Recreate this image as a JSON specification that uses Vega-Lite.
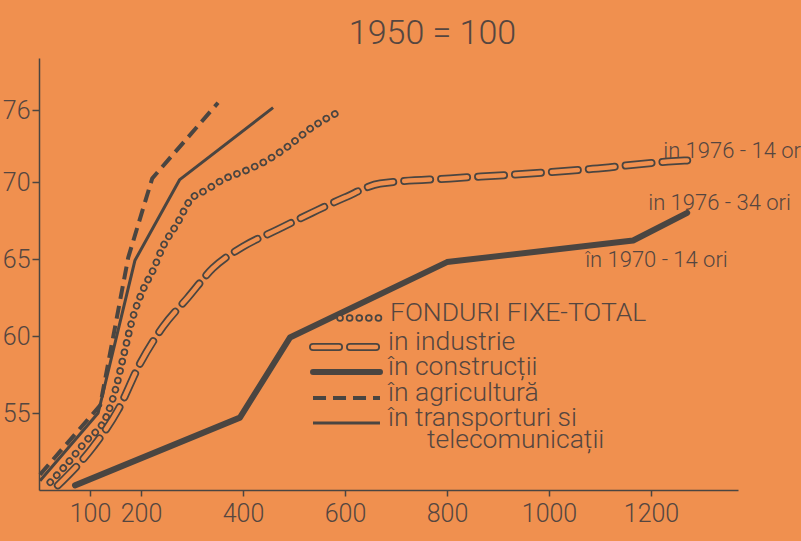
{
  "$schema": "https://vega.github.io/schema/vega-lite/v6.json",
  "width": 699,
  "height": 432,
  "autosize": "none",
  "padding": {"left": 39, "top": 58, "right": 63, "bottom": 51},
  "background": "#F0904F",
  "config": {
    "view": {"stroke": null},
    "font": "Roboto",
    "text": {"font": "Roboto", "fontWeight": 300},
    "axis": {
      "grid": false,
      "domainColor": "#4a4541",
      "domainWidth": 1.5,
      "tickColor": "#4a4541",
      "tickWidth": 1.5,
      "labelFont": "Roboto",
      "labelFontWeight": 300,
      "labelFontSize": 25,
      "labelColor": "#554640",
      "title": null
    }
  },
  "title": {
    "text": "1950 = 100",
    "fontSize": 34,
    "fontWeight": 300,
    "font": "Roboto",
    "color": "#554640",
    "anchor": "middle",
    "dx": 44,
    "offset": 7
  },
  "datasets": {
    "lines": [
      {"series": "constructii", "x": 70.6, "y": 1950.3},
      {"series": "constructii", "x": 394, "y": 1954.7},
      {"series": "constructii", "x": 492, "y": 1959.9},
      {"series": "constructii", "x": 800, "y": 1964.8},
      {"series": "constructii", "x": 1165, "y": 1966.2, "note": "în 1970 - 14 ori"},
      {"series": "constructii", "x": 1271, "y": 1968.0, "note": "in 1976 - 34 ori"},
      {"series": "industrie", "x": 37, "y": 1950.3},
      {"series": "industrie", "x": 106, "y": 1952.8},
      {"series": "industrie", "x": 155, "y": 1955.2},
      {"series": "industrie", "x": 198, "y": 1958.2},
      {"series": "industrie", "x": 243, "y": 1960.6},
      {"series": "industrie", "x": 292, "y": 1962.5},
      {"series": "industrie", "x": 341, "y": 1964.4},
      {"series": "industrie", "x": 400, "y": 1965.8},
      {"series": "industrie", "x": 467, "y": 1966.9},
      {"series": "industrie", "x": 535, "y": 1968.0},
      {"series": "industrie", "x": 600, "y": 1969.0},
      {"series": "industrie", "x": 669, "y": 1969.9},
      {"series": "industrie", "x": 806, "y": 1970.3},
      {"series": "industrie", "x": 924, "y": 1970.6},
      {"series": "industrie", "x": 1086, "y": 1971.1},
      {"series": "industrie", "x": 1233, "y": 1971.7},
      {"series": "industrie", "x": 1271, "y": 1971.8, "note": "in 1976 - 14 ori"},
      {"series": "total", "x": 22, "y": 1950.5},
      {"series": "total", "x": 47, "y": 1951.4},
      {"series": "total", "x": 90, "y": 1953.1},
      {"series": "total", "x": 135, "y": 1955.0},
      {"series": "total", "x": 153, "y": 1956.9},
      {"series": "total", "x": 165, "y": 1958.6},
      {"series": "total", "x": 184, "y": 1961.2},
      {"series": "total", "x": 204, "y": 1963.0},
      {"series": "total", "x": 224, "y": 1964.3},
      {"series": "total", "x": 243, "y": 1965.8},
      {"series": "total", "x": 271, "y": 1967.3},
      {"series": "total", "x": 296, "y": 1968.8},
      {"series": "total", "x": 329, "y": 1969.5},
      {"series": "total", "x": 361, "y": 1970.2},
      {"series": "total", "x": 408, "y": 1971.0},
      {"series": "total", "x": 447, "y": 1971.8},
      {"series": "total", "x": 486, "y": 1972.9},
      {"series": "total", "x": 537, "y": 1974.6},
      {"series": "total", "x": 586, "y": 1975.8},
      {"series": "transport", "x": 2, "y": 1950.6},
      {"series": "transport", "x": 116, "y": 1955.0},
      {"series": "transport", "x": 188, "y": 1964.9},
      {"series": "transport", "x": 276, "y": 1970.2},
      {"series": "transport", "x": 459, "y": 1976.2},
      {"series": "agricultura", "x": 2, "y": 1951.0},
      {"series": "agricultura", "x": 120, "y": 1955.5},
      {"series": "agricultura", "x": 175, "y": 1965.1},
      {"series": "agricultura", "x": 222, "y": 1970.3},
      {"series": "agricultura", "x": 351, "y": 1976.6}
    ],
    "legend": [
      {"series": "total", "label": "FONDURI FIXE-TOTAL", "x1": 590.2, "x2": 672.5, "y": 1961.17},
      {"series": "industrie", "label": "in industrie", "x1": 537.3, "x2": 668.6, "y": 1959.29},
      {"series": "constructii", "label": "în construcții", "x1": 537.3, "x2": 668.6, "y": 1957.66},
      {"series": "agricultura", "label": "în agricultură", "x1": 537.3, "x2": 668.6, "y": 1955.97},
      {"series": "transport", "label": "în transporturi si", "x1": 537.3, "x2": 668.6, "y": 1954.35},
      {"series": "none", "label": "telecomunicații", "x1": 745.1, "x2": 745.1, "y": 1952.92}
    ]
  },
  "encoding": {
    "x": {
      "field": "x",
      "type": "quantitative",
      "scale": {"domain": [0, 1370.6], "nice": false, "zero": false},
      "axis": {"values": [100, 200, 400, 600, 800, 1000, 1200], "format": "d", "tickSize": 6, "labelPadding": 5}
    },
    "y": {
      "field": "y",
      "type": "quantitative",
      "scale": {"domain": [1950, 1970, 1976, 1980.33], "range": [432, 124, 52, 0], "nice": false, "zero": false},
      "axis": {"values": [1955, 1960, 1965, 1970, 1976], "labelExpr": "toString(datum.value - 1900)", "tickSize": 7, "labelPadding": 2}
    }
  },
  "layer": [
    {
      "data": {"name": "lines"},
      "transform": [{"filter": "datum.series == 'constructii'"}],
      "mark": {"type": "line", "color": "#4a4541", "strokeWidth": 6, "strokeJoin": "round", "strokeCap": "round"}
    },
    {
      "data": {"name": "lines"},
      "transform": [{"filter": "datum.series == 'transport'"}],
      "mark": {"type": "line", "color": "#4a4541", "strokeWidth": 3, "strokeJoin": "round"}
    },
    {
      "data": {"name": "lines"},
      "transform": [{"filter": "datum.series == 'agricultura'"}],
      "mark": {"type": "line", "color": "#4a4541", "strokeWidth": 4, "strokeDash": [13, 7]}
    },
    {
      "data": {"name": "lines"},
      "transform": [{"filter": "datum.series == 'total'"}],
      "mark": {"type": "line", "color": "#4a4541", "strokeWidth": 7.5, "strokeDash": [0.1, 9.5], "strokeCap": "round", "interpolate": "monotone"}
    },
    {
      "data": {"name": "lines"},
      "transform": [{"filter": "datum.series == 'total'"}],
      "mark": {"type": "line", "color": "#F0904F", "strokeWidth": 4, "strokeDash": [0.1, 9.5], "strokeCap": "round", "interpolate": "monotone"}
    },
    {
      "data": {"name": "lines"},
      "transform": [{"filter": "datum.series == 'industrie'"}],
      "mark": {"type": "line", "color": "#4a4541", "strokeWidth": 8, "strokeDash": [26, 11], "strokeCap": "round", "interpolate": "monotone"}
    },
    {
      "data": {"name": "lines"},
      "transform": [{"filter": "datum.series == 'industrie'"}],
      "mark": {"type": "line", "color": "#F0904F", "strokeWidth": 4.5, "strokeDash": [26, 11], "strokeCap": "round", "interpolate": "monotone"}
    },
    {
      "data": {"name": "lines"},
      "transform": [{"filter": "datum.note == 'in 1976 - 14 ori'"}],
      "mark": {"type": "text", "align": "left", "baseline": "alphabetic", "dx": -24, "dy": -2, "fontSize": 22, "color": "#554640"},
      "encoding": {"text": {"field": "note"}}
    },
    {
      "data": {"name": "lines"},
      "transform": [{"filter": "datum.note == 'in 1976 - 34 ori'"}],
      "mark": {"type": "text", "align": "left", "baseline": "alphabetic", "dx": -39, "dy": -3, "fontSize": 22, "color": "#554640"},
      "encoding": {"text": {"field": "note"}}
    },
    {
      "data": {"name": "lines"},
      "transform": [{"filter": "datum.note == 'în 1970 - 14 ori'"}],
      "mark": {"type": "text", "align": "left", "baseline": "alphabetic", "dx": -48, "dy": 26, "fontSize": 22, "color": "#554640"},
      "encoding": {"text": {"field": "note"}}
    },
    {
      "data": {"name": "legend"},
      "transform": [{"filter": "datum.series == 'constructii'"}],
      "mark": {"type": "rule", "color": "#4a4541", "strokeWidth": 6, "strokeCap": "round"},
      "encoding": {"x": {"field": "x1", "type": "quantitative"}, "x2": {"field": "x2"}, "y": {"field": "y", "type": "quantitative"}}
    },
    {
      "data": {"name": "legend"},
      "transform": [{"filter": "datum.series == 'transport'"}],
      "mark": {"type": "rule", "color": "#4a4541", "strokeWidth": 3},
      "encoding": {"x": {"field": "x1", "type": "quantitative"}, "x2": {"field": "x2"}, "y": {"field": "y", "type": "quantitative"}}
    },
    {
      "data": {"name": "legend"},
      "transform": [{"filter": "datum.series == 'agricultura'"}],
      "mark": {"type": "rule", "color": "#4a4541", "strokeWidth": 4, "strokeDash": [13, 7]},
      "encoding": {"x": {"field": "x1", "type": "quantitative"}, "x2": {"field": "x2"}, "y": {"field": "y", "type": "quantitative"}}
    },
    {
      "data": {"name": "legend"},
      "transform": [{"filter": "datum.series == 'total'"}],
      "mark": {"type": "rule", "color": "#4a4541", "strokeWidth": 7.5, "strokeDash": [0.1, 9.5], "strokeCap": "round"},
      "encoding": {"x": {"field": "x1", "type": "quantitative"}, "x2": {"field": "x2"}, "y": {"field": "y", "type": "quantitative"}}
    },
    {
      "data": {"name": "legend"},
      "transform": [{"filter": "datum.series == 'total'"}],
      "mark": {"type": "rule", "color": "#F0904F", "strokeWidth": 4, "strokeDash": [0.1, 9.5], "strokeCap": "round"},
      "encoding": {"x": {"field": "x1", "type": "quantitative"}, "x2": {"field": "x2"}, "y": {"field": "y", "type": "quantitative"}}
    },
    {
      "data": {"name": "legend"},
      "transform": [{"filter": "datum.series == 'industrie'"}],
      "mark": {"type": "rule", "color": "#4a4541", "strokeWidth": 8, "strokeDash": [26, 11], "strokeCap": "round"},
      "encoding": {"x": {"field": "x1", "type": "quantitative"}, "x2": {"field": "x2"}, "y": {"field": "y", "type": "quantitative"}}
    },
    {
      "data": {"name": "legend"},
      "transform": [{"filter": "datum.series == 'industrie'"}],
      "mark": {"type": "rule", "color": "#F0904F", "strokeWidth": 4.5, "strokeDash": [26, 11], "strokeCap": "round"},
      "encoding": {"x": {"field": "x1", "type": "quantitative"}, "x2": {"field": "x2"}, "y": {"field": "y", "type": "quantitative"}}
    },
    {
      "data": {"name": "legend"},
      "mark": {"type": "text", "align": "left", "baseline": "alphabetic", "dx": 8, "dy": 3, "fontSize": 26.5, "color": "#554640"},
      "encoding": {"x": {"field": "x2", "type": "quantitative"}, "y": {"field": "y", "type": "quantitative"}, "text": {"field": "label"}}
    }
  ]
}
